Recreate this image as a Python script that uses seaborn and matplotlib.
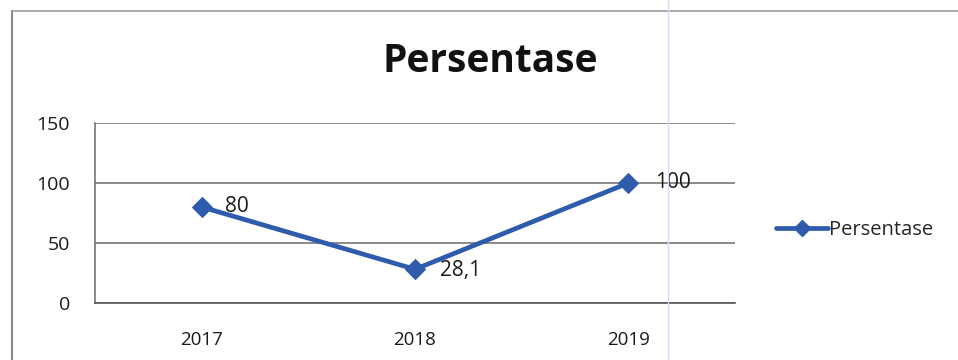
import matplotlib
matplotlib.use("Agg")
import matplotlib.pyplot as plt
import seaborn as sns
import pandas as pd
from matplotlib.lines import Line2D

years = ["2017", "2018", "2019"]
values = [80, 28.1, 100]
value_labels = ["80", "28,1", "100"]
series_name = "Persentase"
y_ticks = [0, 50, 100, 150]

df = pd.DataFrame({"Tahun": years, "Nilai": values})

sns.set_theme(style="white")
plt.rcParams["font.family"] = ["Open Sans", "DejaVu Sans"]

fig = plt.figure(figsize=(9.58, 3.6), dpi=100)
ax = fig.add_axes([95/958, 1-303/360, 640/958, 180/360])

color = "#2E5BAC"
sns.lineplot(data=df, x="Tahun", y="Nilai", ax=ax, color=color, linewidth=3.4,
             marker="D", markersize=10, markeredgecolor=color, sort=False)

ax.set_xlim(-0.5, 2.5)
ax.set_ylim(0, 150)
ax.set_yticks(y_ticks)
ax.set_yticklabels([str(t) for t in y_ticks], fontsize=14, color="#1a1a1a")
ax.tick_params(axis="y", pad=18, length=0)
ax.tick_params(axis="x", pad=20, length=0, labelsize=13.5, labelcolor="#1a1a1a")
ax.set_xlabel("")
ax.set_ylabel("")
ax.yaxis.grid(True, color="#6b6b6b", linewidth=1.1)
ax.set_axisbelow(True)
for s in ["top", "right"]:
    ax.spines[s].set_visible(False)
ax.spines["left"].set_color("#6b6b6b")
ax.spines["left"].set_linewidth(1.1)
ax.spines["bottom"].set_color("#555555")
ax.spines["bottom"].set_linewidth(1.2)

offsets = [(17, 0), (18, -1), (19, 0)]
for i, (v, lab) in enumerate(zip(values, value_labels)):
    ax.annotate(lab, (i, v), xytext=offsets[i], textcoords="offset points",
                ha="left", va="center", fontsize=15, color="#1a1a1a")

fig.text(490/958, 1-62/360, "Persentase", ha="center", va="center",
         fontsize=28, fontweight="bold", color="#111111")

handle = Line2D([], [], color=color, linewidth=3.4, marker="D", markersize=8)
fig.legend([handle], [series_name], loc="center left",
           bbox_to_anchor=(758/958, 1-230/360), frameon=False,
           fontsize=14.5, handlelength=2.6, handletextpad=0.05)

# outer chart border (top and left) and faint page line
fig.add_artist(Line2D([12/958, 12/958], [0, 1-11/360], transform=fig.transFigure,
                      color="#8a8a8a", linewidth=1.5))
fig.add_artist(Line2D([12/958, 1], [1-11/360, 1-11/360], transform=fig.transFigure,
                      color="#9a9a9a", linewidth=1.2))
fig.add_artist(Line2D([668/958, 668/958], [0, 1], transform=fig.transFigure,
                      color="#cfe0f3", linewidth=1.0))

fig.savefig("out.png", dpi=100)
